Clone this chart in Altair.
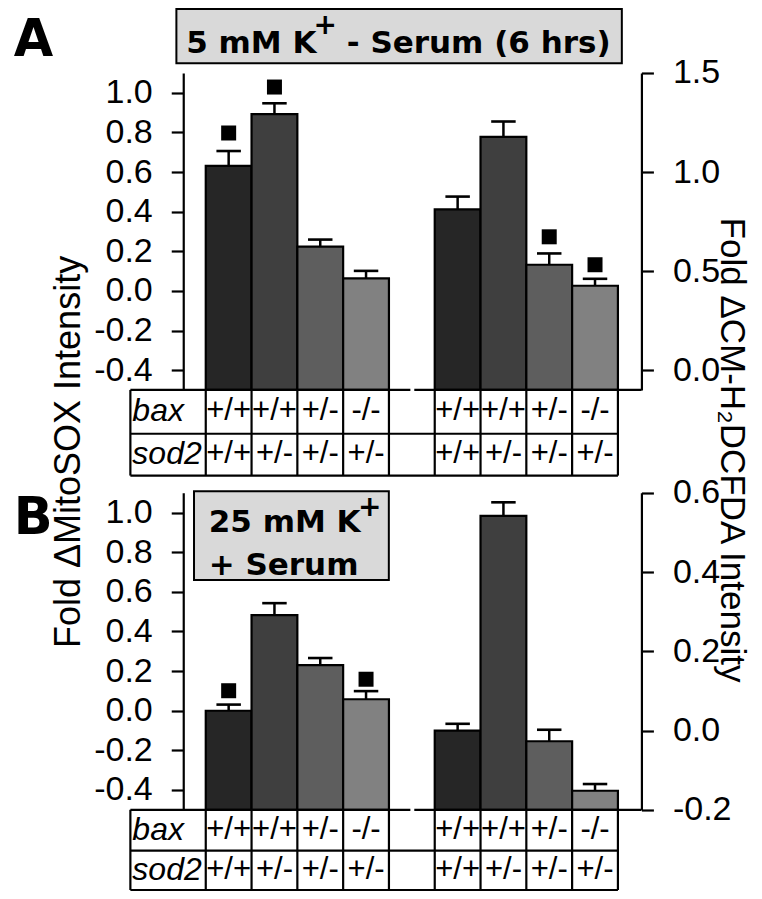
import altair as alt
import pandas as pd

# ---------------- canvas mapping (reference pixels -> chart pixels) ----------------
W, H = 746, 883


def px(x):
    return x * W / 762.0


def py(y):
    return (y - 1.0) * H / 897.0


# ---------------- data ----------------
cols = ["c1", "c2", "c3", "c4", "gap", "c5", "c6", "c7", "c8"]
left_cols = ["c1", "c2", "c3", "c4"]
right_cols = ["c5", "c6", "c7", "c8"]
shades = ["s1", "s2", "s3", "s4"]

bax = ["+/+", "+/+", "+/-", "-/-", "", "+/+", "+/+", "+/-", "-/-"]
sod2 = ["+/+", "+/-", "+/-", "+/-", "", "+/+", "+/-", "+/-", "+/-"]

# Panel A: 5 mM K+ - Serum (6 hrs)
a_mito = [0.631, 0.892, 0.223, 0.063]          # Fold dMitoSOX (left axis)
a_mito_upper = [0.706, 0.947, 0.259, 0.101]
a_mito_sig = [0.797, 1.029, None, None]
a_cm = [0.811, 1.177, 0.532, 0.426]            # Fold dCM-H2DCFDA (right axis)
a_cm_upper = [0.876, 1.255, 0.589, 0.461]
a_cm_sig = [None, None, 0.673, 0.532]

# Panel B: 25 mM K+ + Serum
b_mito = [0.0, 0.483, 0.230, 0.058]
b_mito_upper = [0.031, 0.543, 0.266, 0.099]
b_mito_sig = [0.101, None, None, 0.159]
b_cm = [0.0, 0.542, -0.027, -0.152]
b_cm_upper = [0.017, 0.576, 0.002, -0.135]
b_cm_sig = [None, None, None, None]

left_ticks = [-0.4, -0.2, 0.0, 0.2, 0.4, 0.6, 0.8, 1.0]
a_right_ticks = [0.0, 0.5, 1.0, 1.5]
b_right_ticks = [-0.2, 0.0, 0.2, 0.4, 0.6]

# ---------------- styles ----------------
GRAYS = ["#262626", "#3f3f3f", "#5e5e5e", "#818181"]
LW = 2.2
xscale = alt.Scale(domain=cols, range=[px(202), px(623)], paddingInner=0, paddingOuter=0)
shade_scale = alt.Scale(domain=shades, range=GRAYS)
LABEL_EXPR = "(datum.value < -0.000001 ? '-' : '') + format(abs(datum.value), '.1f')"


def panel(cols4, vals, uppers, sigs, domain, y_top, y_bot, ticks, orient):
    df = pd.DataFrame({"col": cols4, "shade": shades, "val": vals,
                       "upper": uppers, "sig": sigs})
    df["base"] = domain[0]
    ys = alt.Scale(domain=domain, range=[py(y_bot), py(y_top)], nice=False, zero=False)
    x = alt.X("col:N", scale=xscale, axis=None)
    off = -px(179) if orient == "left" else px(647) - W
    axis = alt.Axis(orient=orient, offset=off, values=ticks, title=None, grid=False,
                    domainColor="black", domainWidth=LW, tickColor="black",
                    tickWidth=LW, tickSize=12, labelFont="Liberation Sans",
                    labelFontSize=34, labelColor="black", labelPadding=19,
                    labelOverlap=False, labelFlush=False, labelExpr=LABEL_EXPR)
    base = alt.Chart(df)
    bars = base.mark_bar(stroke="black", strokeWidth=LW).encode(
        x=x, y=alt.Y("val:Q", scale=ys, axis=axis), y2="base:Q",
        color=alt.Color("shade:N", scale=shade_scale, legend=None))
    stem = base.mark_rule(color="black", strokeWidth=2.5).encode(
        x=x, y=alt.Y("val:Q", scale=ys, axis=axis), y2="upper:Q")
    cap = base.mark_tick(color="black", size=px(25), thickness=2.6, opacity=1).encode(
        x=x, y=alt.Y("upper:Q", scale=ys, axis=axis))
    sq = base.transform_filter("isValid(datum.sig)").mark_square(
        size=225, color="black", filled=True, opacity=1).encode(
        x=x, y=alt.Y("sig:Q", scale=ys, axis=axis))
    return alt.layer(bars, stem, cap, sq)


def table(y_top, y_mid, y_bot):
    cells = pd.DataFrame({"col": cols * 2, "row": ["bax"] * 9 + ["sod2"] * 9,
                          "txt": bax + sod2})
    yscale = alt.Scale(domain=["bax", "sod2"], range=[py(y_top), py(y_bot)],
                       paddingInner=0, paddingOuter=0)
    txt = alt.Chart(cells).mark_text(font="Liberation Sans", fontSize=31,
                                     color="black", baseline="middle").encode(
        x=alt.X("col:N", scale=xscale, axis=None),
        y=alt.Y("row:N", scale=yscale, axis=None), text="txt:N")
    labels = alt.Chart(pd.DataFrame({"row": ["bax", "sod2"]})).mark_text(
        font="Liberation Sans", fontStyle="italic", fontSize=32, color="black",
        align="left", baseline="middle").encode(
        x=alt.value(px(127)), y=alt.Y("row:N", scale=yscale, axis=None), text="row:N")
    vlines = alt.Chart(pd.DataFrame({"col": cols})).mark_rule(
        color="black", strokeWidth=LW).encode(
        x=alt.X("col:N", scale=xscale, axis=None, bandPosition=0),
        y=alt.value(py(y_top)), y2=alt.value(py(y_bot)))
    vend = alt.Chart(pd.DataFrame({"col": ["c8"]})).mark_rule(
        color="black", strokeWidth=LW).encode(
        x=alt.X("col:N", scale=xscale, axis=None, bandPosition=1),
        y=alt.value(py(y_top)), y2=alt.value(py(y_bot)))
    one = alt.Data(values=[{"k": 1}])
    vleft = alt.Chart(one).mark_rule(color="black", strokeWidth=LW).encode(
        x=alt.value(px(125)), y=alt.value(py(y_top)), y2=alt.value(py(y_bot)))
    hmid = alt.Chart(one).mark_rule(color="black", strokeWidth=LW).encode(
        x=alt.value(px(125)), x2=alt.value(px(623)), y=alt.value(py(y_mid)))
    hbot = alt.Chart(one).mark_rule(color="black", strokeWidth=LW).encode(
        x=alt.value(px(125)), x2=alt.value(px(623)), y=alt.value(py(y_bot)))
    # top border = x axis line with small break
    htop1 = alt.Chart(one).mark_rule(color="black", strokeWidth=LW).encode(
        x=alt.value(px(125)), x2=alt.value(px(411)), y=alt.value(py(y_top)))
    htop2 = alt.Chart(one).mark_rule(color="black", strokeWidth=LW).encode(
        x=alt.value(px(415)), x2=alt.value(px(647)), y=alt.value(py(y_top)))
    return alt.layer(txt, labels, vlines, vend, vleft, hmid, hbot, htop1, htop2)


one = alt.Data(values=[{"k": 1}])


def box(x1, x2, y1, y2):
    return alt.Chart(one).mark_rect(fill="#d9d9d9", stroke="black", strokeWidth=2).encode(
        x=alt.value(px(x1)), x2=alt.value(px(x2)), y=alt.value(py(y1)), y2=alt.value(py(y2)))


def label(text, x, y, size, bold=True, align="left", baseline="alphabetic",
          angle=0, font="DejaVu Sans"):
    kw = dict(text=text, font=font, fontSize=size, fontWeight="bold" if bold else "normal",
              color="black", align=align, baseline=baseline)
    if angle:
        kw["angle"] = angle
    return alt.Chart(one).mark_text(**kw).encode(x=alt.value(px(x)), y=alt.value(py(y)))


deco = [
    box(172, 627, 2, 57),
    label("5 mM K", 182, 47, 31),
    label("+", 324, 27, 28, align="center"),
    label("- Serum (6 hrs)", 346, 47, 31),
    label("A", 6, 50, 51),
    label("B", 6, 535, 51),
    box(190, 389, 492, 582),
    label("25 mM K", 205, 533, 31),
    label("+", 369.5, 517, 28, align="center"),
    label("+ Serum", 205, 577, 31),
    label("Fold \u0394MitoSOX Intensity", 62, 452, 36, bold=False, align="center",
          baseline="middle", angle=270, font="Liberation Sans"),
    label("Fold \u0394CM-H\u2082DCFDA Intensity", 740, 450, 35, bold=False, align="center",
          baseline="middle", angle=90, font="Liberation Sans"),
]

layers = [
    panel(left_cols, a_mito, a_mito_upper, a_mito_sig, [-0.5, 1.1], 67, 389, left_ticks, "left"),
    panel(right_cols, a_cm, a_cm_upper, a_cm_sig, [-0.1, 1.5], 67, 389, a_right_ticks, "right"),
    panel(left_cols, b_mito, b_mito_upper, b_mito_sig, [-0.5, 1.1], 493.5, 815.5, left_ticks, "left"),
    panel(right_cols, b_cm, b_cm_upper, b_cm_sig, [-0.2, 0.6], 493.5, 815.5, b_right_ticks, "right"),
    table(389, 433.5, 476),
    table(815.5, 857, 897),
] + deco

chart = alt.layer(*layers).resolve_scale(y="independent").resolve_axis(
    y="independent").properties(
    width=W, height=H, padding=0,
    autosize=alt.AutoSizeParams(type="none")).configure_view(stroke=None)

chart.save("out.html", embed_options={"renderer": "svg", "actions": False})
